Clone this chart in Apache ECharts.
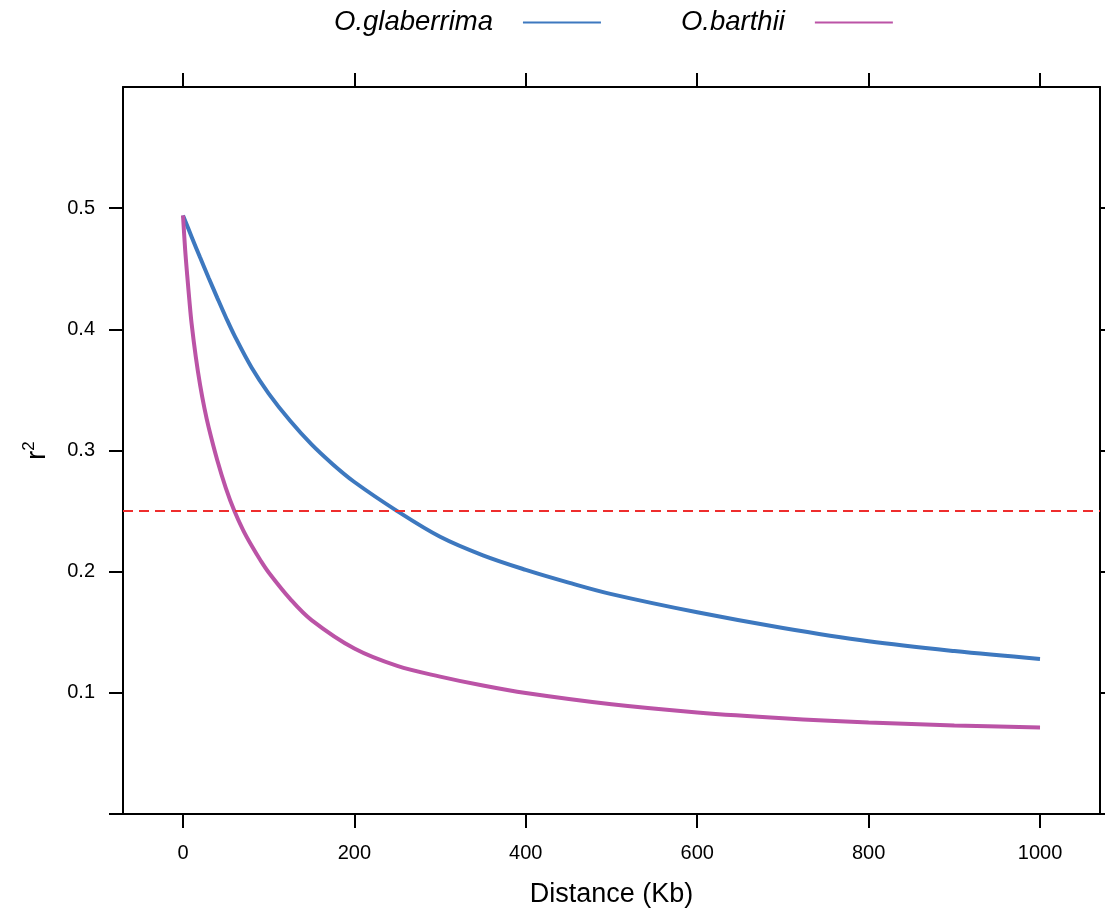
<!DOCTYPE html>
<html>
<head>
<meta charset="utf-8">
<script src="https://cdn.jsdelivr.net/npm/echarts@6/dist/echarts.min.js"></script>
<style>
  html, body { margin: 0; padding: 0; background: #fff; }
  #chart { width: 1105px; height: 915px; }
</style>
</head>
<body>
<div id="chart"></div>
<script>
// ---- Data ----
const seriesNames = ['O.glaberrima', 'O.barthii'];

const glaberrimaDist = [0, 10, 20, 30, 40, 50, 60, 80, 100, 125, 150, 175, 200, 250, 300, 350, 400, 450, 500, 600, 700, 800, 900, 1000];
const glaberrimaR2   = [0.494, 0.4765, 0.4592, 0.4424, 0.426, 0.410, 0.395, 0.3685, 0.347, 0.3245, 0.305, 0.2885, 0.274, 0.250, 0.2288, 0.2135, 0.2015, 0.191, 0.1815, 0.1665, 0.1535, 0.1425, 0.1345, 0.128];

const barthiiDist = [0, 2.5, 5, 7.5, 10, 15, 20, 25, 30, 40, 50, 60, 70, 80, 90, 100, 125, 150, 200, 250, 300, 350, 400, 500, 600, 700, 800, 900, 1000];
const barthiiR2   = [0.494, 0.466, 0.444, 0.4235, 0.405, 0.377, 0.354, 0.335, 0.319, 0.292, 0.269, 0.250, 0.2345, 0.2215, 0.2098, 0.1993, 0.1775, 0.160, 0.1365, 0.1222, 0.1134, 0.106, 0.0998, 0.0905, 0.0838, 0.079, 0.0755, 0.0731, 0.0714];

const thresholdR2 = 0.25;

const xTickValues = [0, 200, 400, 600, 800, 1000];
const yTickValues = [0, 0.1, 0.2, 0.3, 0.4, 0.5];
const yLabelValues = [0.1, 0.2, 0.3, 0.4, 0.5];

// ---- Chart ----
const FONT = "'Liberation Sans', Arial, Helvetica, sans-serif";
const zip = (xs, ys) => xs.map((x, i) => [x, ys[i]]);

const axisLineStyle = { color: '#000', width: 2 };
const chart = echarts.init(document.getElementById('chart'), null, { renderer: 'canvas' });

chart.setOption({
  animation: false,
  backgroundColor: '#ffffff',
  textStyle: { fontFamily: FONT },
  legend: {
    top: 4,
    left: 329,
    align: 'right',
    icon: 'rect',
    itemWidth: 78,
    itemHeight: 2,
    itemGap: 80,
    data: seriesNames,
    textStyle: {
      fontFamily: FONT,
      fontStyle: 'italic',
      fontSize: 27.5,
      color: '#000',
      padding: [0, 25, 0, 0]
    }
  },
  grid: { left: 123, right: 5, top: 87, bottom: 101, containLabel: false },
  xAxis: [
    {
      type: 'value', position: 'bottom', min: -70, max: 1070,
      name: 'Distance (Kb)', nameLocation: 'middle', nameGap: 67,
      nameTextStyle: { fontSize: 27, color: '#000', fontFamily: FONT },
      axisLine: { show: true, onZero: false, lineStyle: axisLineStyle },
      axisTick: { show: true, inside: false, length: 14, customValues: xTickValues, lineStyle: axisLineStyle },
      axisLabel: { show: true, customValues: xTickValues, fontSize: 20, color: '#000', margin: 29, fontFamily: FONT,
        formatter: v => String(v) },
      splitLine: { show: false }
    },
    {
      type: 'value', position: 'top', min: -70, max: 1070,
      axisLine: { show: true, onZero: false, lineStyle: axisLineStyle },
      axisTick: { show: true, inside: false, length: 14, customValues: xTickValues, lineStyle: axisLineStyle },
      axisLabel: { show: false },
      splitLine: { show: false }
    }
  ],
  yAxis: [
    {
      type: 'value', position: 'left', min: 0, max: 0.6,
      name: '{r|r}{s|2}', nameLocation: 'middle', nameGap: 72, nameRotate: 90,
      nameTextStyle: {
        color: '#000',
        rich: {
          r: { fontSize: 27, fontFamily: FONT, color: '#000', lineHeight: 30, verticalAlign: 'bottom' },
          s: { fontSize: 17, fontFamily: FONT, color: '#000', lineHeight: 30, verticalAlign: 'top' }
        }
      },
      axisLine: { show: true, onZero: false, lineStyle: axisLineStyle },
      axisTick: { show: true, inside: false, length: 14, customValues: yTickValues, lineStyle: axisLineStyle },
      axisLabel: {
        show: true, customValues: yLabelValues, fontSize: 20, color: '#000', margin: 28, fontFamily: FONT,
        formatter: v => v.toFixed(1)
      },
      splitLine: { show: false }
    },
    {
      type: 'value', position: 'right', min: 0, max: 0.6,
      axisLine: { show: true, onZero: false, lineStyle: axisLineStyle },
      axisTick: { show: true, inside: false, length: 14, customValues: yTickValues, lineStyle: axisLineStyle },
      axisLabel: { show: false },
      splitLine: { show: false }
    }
  ],
  series: [
    {
      name: seriesNames[0], type: 'line', xAxisIndex: 0, yAxisIndex: 0,
      data: zip(glaberrimaDist, glaberrimaR2),
      smooth: 0.35, showSymbol: false, symbol: 'none',
      color: '#3d78bf',
      lineStyle: { color: '#3d78bf', width: 4 },
      markLine: {
        silent: true, symbol: 'none',
        label: { show: false },
        lineStyle: { color: '#ee2d2d', width: 1.8, type: [10, 6] },
        data: [{ yAxis: thresholdR2 }]
      }
    },
    {
      name: seriesNames[1], type: 'line', xAxisIndex: 0, yAxisIndex: 0,
      data: zip(barthiiDist, barthiiR2),
      smooth: 0.35, showSymbol: false, symbol: 'none',
      color: '#bb53a6',
      lineStyle: { color: '#bb53a6', width: 4 }
    }
  ]
});
</script>
</body>
</html>
